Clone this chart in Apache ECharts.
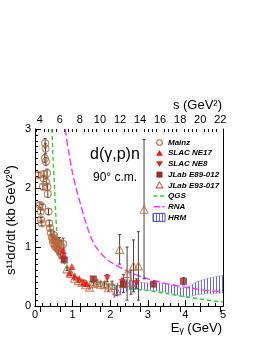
<!DOCTYPE html>
<html><head><meta charset="utf-8">
<script src="https://cdn.jsdelivr.net/npm/echarts@6/dist/echarts.min.js"></script>
<style>html,body{margin:0;padding:0;background:#fff}#c{width:268px;height:346px}</style>
</head><body><div id="c"></div>
<script>
// ---- data ----
const mainzE   = [0.10,0.13,0.15,0.16,0.18,0.19,0.21,0.23,0.24,0.26,0.27,0.28,0.29,0.30,0.32,0.33,0.34,0.36,0.38,0.40,0.42,0.45,0.47,0.49,0.50,0.51,0.53,0.54,0.55,0.57,0.58,0.60,0.62,0.63,0.65,0.67,0.70,0.72,0.75];
const mainzV   = [2.22,1.71,1.60,1.46,1.40,1.68,2.02,2.16,2.24,2.50,2.76,2.67,2.45,2.10,2.25,2.02,1.90,1.60,1.40,1.32,1.24,1.17,1.12,1.06,1.20,1.14,1.02,1.10,1.00,1.08,1.05,0.98,1.03,0.95,1.07,0.90,1.01,0.85,1.05];
const mainzErr = [0.04,0.04,0.04,0.04,0.04,0.04,0.05,0.05,0.05,0.07,0.08,0.08,0.07,0.06,0.07,0.06,0.06,0.05,0.05,0.05,0.05,0.05,0.05,0.06,0.06,0.06,0.06,0.07,0.07,0.07,0.08,0.08,0.08,0.08,0.09,0.09,0.10,0.10,0.10];

const ne17E = [0.75,0.77,0.91,0.98,1.06,1.18,1.30,1.38];
const ne17V = [0.94,0.86,0.56,0.67,0.51,0.46,0.40,0.38];

const ne8E   = [1.92,2.32,2.70];
const ne8V   = [0.47,0.40,0.38];
const ne8Err = [0.06,0.07,0.08];

const e89E   = [0.78,1.55,2.35,3.15,3.95];
const e89V   = [0.78,0.46,0.37,0.37,0.42];
const e89Err = [0.02,0.03,0.05,0.04,0.06];

const e93E   = [0.85,0.95,1.05,1.15,1.25,1.35,1.45,1.55,1.65,1.75,1.85,1.95,2.05,2.17,2.25,2.35,2.45,2.55,2.62,2.75,2.90];
const e93V   = [0.63,0.55,0.47,0.43,0.40,0.36,0.32,0.38,0.40,0.37,0.36,0.31,0.35,0.26,0.96,0.38,0.55,0.40,0.68,0.68,1.64];
const e93Err = [0.03,0.03,0.03,0.03,0.03,0.03,0.03,0.03,0.04,0.04,0.05,0.06,0.07,0.08,0.25,0.15,0.45,0.20,0.44,0.58,1.18];

const qgsE = [0.45,0.48,0.51,0.55,0.58,0.62,0.70,0.80,0.90,1.00,1.20,1.60,2.10,2.50,2.84,3.00,3.50,4.00,4.50,5.00];
const qgsV = [3.00,2.50,2.14,1.60,1.22,1.00,0.84,0.70,0.60,0.53,0.46,0.40,0.36,0.31,0.27,0.26,0.21,0.155,0.11,0.065];

const rnaE = [0.80,0.90,1.00,1.10,1.20,1.30,1.40,1.50,1.60,1.80,2.00,2.50,3.00,3.50,4.00,4.50,5.00];
const rnaV = [3.00,2.60,2.25,1.98,1.75,1.52,1.32,1.15,1.02,0.86,0.75,0.58,0.46,0.38,0.32,0.27,0.24];

const hrmE  = [2.10,2.30,2.50,2.80,3.00,3.30,3.60,3.90,4.10,4.30,4.60,5.00];
const hrmLo = [0.14,0.20,0.28,0.28,0.27,0.25,0.22,0.16,0.16,0.19,0.21,0.22];
const hrmHi = [0.36,0.42,0.44,0.40,0.39,0.39,0.36,0.30,0.33,0.41,0.47,0.52];

const sTicks = [4,6,8,10,12,14,16,18,20,22];
const legendNames = ['Mainz','SLAC NE17','SLAC NE8','JLab E89-012','JLab E93-017','QGS','RNA','HRM'];
const MD = 1.8756; // deuteron mass, s = MD^2 + 2 MD E
const sMin = MD*MD, sMax = MD*MD + 2*MD*5;

// ---- helpers ----
const zip3 = (a,b,c) => a.map((v,i)=> c ? [v,b[i],c[i]] : [v,b[i]]);
const sMinor = [];
sTicks.forEach(t => { for (let k=1;k<5;k++){ const v=+(t-2+0.4*k).toFixed(2); if(v>sMin && v<sMax) sMinor.push(v);} });

const pc = document.createElement('canvas'); pc.width=3; pc.height=4;
const pctx = pc.getContext('2d'); pctx.fillStyle='rgba(70,70,255,0.85)'; pctx.fillRect(0,0,1,4);
const hatch = {image: pc, repeat: 'repeat'};

function errBar(color){
  return function(params, api){
    const x=api.value(0), y=api.value(1), e=api.value(2);
    const a=api.coord([x,y+e]), b=api.coord([x,y-e]);
    const st={stroke:color, lineWidth:1};
    return {type:'group', children:[
      {type:'line', shape:{x1:a[0],y1:a[1],x2:b[0],y2:b[1]}, style:st},
      {type:'line', shape:{x1:a[0]-1.5,y1:a[1],x2:a[0]+1.5,y2:a[1]}, style:st},
      {type:'line', shape:{x1:b[0]-1.5,y1:b[1],x2:b[0]+1.5,y2:b[1]}, style:st}
    ]};
  };
}

const BROWN='#c06a3c', RED='#ff1010', MAROON='#9a2a2a', GREEN='#22dd22', MAG='#ff33ff';
const FONT='Liberation Sans';

// ---- manual legend (graphic) ----
const LX=159.5, LT=168, LY0=142.5, LDY=10.7;
const legendIcons = [
  cy => ({type:'circle', shape:{cx:LX, cy:cy, r:2.8}, style:{fill:'none', stroke:BROWN, lineWidth:1.1}}),
  cy => ({type:'polygon', shape:{points:[[LX,cy-3.2],[LX+3.3,cy+2.6],[LX-3.3,cy+2.6]]}, style:{fill:RED}}),
  cy => ({type:'polygon', shape:{points:[[LX,cy+3.2],[LX+3.3,cy-2.6],[LX-3.3,cy-2.6]]}, style:{fill:RED}}),
  cy => ({type:'rect', shape:{x:LX-3,y:cy-3,width:6,height:6}, style:{fill:MAROON}}),
  cy => ({type:'polygon', shape:{points:[[LX,cy-3.4],[LX+3.4,cy+2.6],[LX-3.4,cy+2.6]]}, style:{fill:'none', stroke:BROWN, lineWidth:1.1}}),
  cy => ({type:'line', shape:{x1:LX-6,y1:cy,x2:LX+5,y2:cy}, style:{stroke:GREEN, lineWidth:1.4, lineDash:[4,2.5]}}),
  cy => ({type:'line', shape:{x1:LX-6,y1:cy,x2:LX+5,y2:cy}, style:{stroke:MAG, lineWidth:1.4, lineDash:[7,2]}}),
  cy => ({type:'rect', shape:{x:LX-6.5,y:cy-4,width:12,height:8}, style:{fill:hatch, stroke:'#4444ff', lineWidth:1}})
];
const legendGraphic = [];
legendNames.forEach((n,i)=>{
  const cy = LY0 + LDY*i;
  legendGraphic.push(legendIcons[i](cy));
  legendGraphic.push({type:'text', x:LT, y:cy, style:{text:n, font:'italic bold 8px '+FONT, fill:'#000', verticalAlign:'middle'}});
});

const chart = echarts.init(document.getElementById('c'), null, {renderer:'canvas'});
chart.setOption({
  animation:false,
  textStyle:{fontFamily:FONT},
  grid:{left:35, top:129, width:188, height:177, show:false},
  xAxis:[
    {type:'value', min:0, max:5, interval:1, position:'bottom',
     axisLine:{lineStyle:{color:'#000',width:1}},
     axisTick:{inside:true,length:6,lineStyle:{color:'#000'}},
     minorTick:{show:true,splitNumber:5,length:3,lineStyle:{color:'#000'}},
     axisLabel:{color:'#000',fontSize:11,margin:3,fontFamily:FONT},
     splitLine:{show:false}},
    {type:'value', min:sMin, max:sMax, position:'top', gridIndex:0,
     axisLine:{lineStyle:{color:'#000',width:1}},
     axisTick:{inside:true,length:6,customValues:sTicks,lineStyle:{color:'#000'}},
     axisLabel:{color:'#000',fontSize:11,margin:4,customValues:sTicks,fontFamily:FONT},
     splitLine:{show:false}},
    {type:'value', min:sMin, max:sMax, position:'top', gridIndex:0,
     axisLine:{show:false},
     axisTick:{inside:true,length:3,customValues:sMinor,lineStyle:{color:'#000'}},
     axisLabel:{show:false},
     splitLine:{show:false}}
  ],
  yAxis:[
    {type:'value', min:0, max:3, interval:1, position:'left',
     axisLine:{show:true,lineStyle:{color:'#000',width:1}},
     axisTick:{show:true,inside:true,length:6,lineStyle:{color:'#000'}},
     minorTick:{show:true,splitNumber:10,length:3,lineStyle:{color:'#000'}},
     axisLabel:{color:'#000',fontSize:11,margin:4,fontFamily:FONT},
     splitLine:{show:false}},
    {type:'value', min:0, max:3, position:'right',
     axisLine:{show:true,lineStyle:{color:'#000',width:1}},
     axisTick:{show:false}, axisLabel:{show:false}, splitLine:{show:false}}
  ],
  graphic:[
    {type:'text', left:90, top:147, style:{text:'d(γ,p)n', font:'16px '+FONT, fill:'#000'}},
    {type:'text', left:93, top:172, style:{text:'90° c.m.', font:'12px '+FONT, fill:'#000'}},
    {type:'text', right:46, top:322, style:{text:'Eᵧ (GeV)', font:'13px '+FONT, fill:'#000'}},
    {type:'text', right:46, top:99, style:{text:'s (GeV²)', font:'13px '+FONT, fill:'#000'}},
    {type:'text', x:11, y:220, rotation:Math.PI/2,
     style:{text:'s¹¹dσ/dt (kb GeV²⁰)', font:'13px '+FONT, fill:'#000', align:'center', verticalAlign:'middle'}}
  ].concat(legendGraphic),
  series:[
    {name:'HRM', type:'custom', clip:true, itemStyle:{color:hatch},
     data:[[0]], z:1,
     renderItem:function(params, api){
       const pts=[];
       hrmE.forEach((e,i)=>pts.push(api.coord([e,hrmHi[i]])));
       for(let i=hrmE.length-1;i>=0;i--) pts.push(api.coord([hrmE[i],hrmLo[i]]));
       return {type:'polygon', shape:{points:pts}, style:{fill:hatch, stroke:'rgba(120,120,255,0.6)', lineWidth:0.8}};
     }},
    {name:'QGS', type:'line', smooth:0.3, symbol:'none', data:zip3(qgsE,qgsV), clip:true, z:2,
     lineStyle:{color:GREEN, width:1.4, type:[4,3]}, itemStyle:{color:GREEN}},
    {name:'RNA', type:'line', smooth:0.3, symbol:'none', data:zip3(rnaE,rnaV), clip:true, z:2,
     lineStyle:{color:MAG, width:1.4, type:[7,3]}, itemStyle:{color:MAG}},
    {type:'custom', renderItem:errBar('#444'), data:zip3(mainzE,mainzV,mainzErr), clip:true, z:3, silent:true},
    {type:'custom', renderItem:errBar('#444'), data:zip3(ne8E,ne8V,ne8Err), clip:true, z:3, silent:true},
    {type:'custom', renderItem:errBar('#444'), data:zip3(e89E,e89V,e89Err), clip:true, z:3, silent:true},
    {type:'custom', renderItem:errBar('#444'), data:zip3(e93E,e93V,e93Err), clip:true, z:3, silent:true},
    {name:'Mainz', type:'scatter', symbol:'circle', symbolSize:7, data:zip3(mainzE,mainzV), z:4,
     itemStyle:{color:'rgba(255,255,255,0)', borderColor:BROWN, borderWidth:1.1}},
    {name:'SLAC NE17', type:'scatter', symbol:'triangle', symbolSize:7, data:zip3(ne17E,ne17V), z:5,
     itemStyle:{color:RED}},
    {name:'SLAC NE8', type:'scatter', symbol:'path://M0,0 L10,0 L5,9 Z', symbolSize:7, data:zip3(ne8E,ne8V), z:5,
     itemStyle:{color:RED}},
    {name:'JLab E89-012', type:'scatter', symbol:'rect', symbolSize:7, data:zip3(e89E,e89V), z:5,
     itemStyle:{color:MAROON}},
    {name:'JLab E93-017', type:'scatter', symbol:'triangle', symbolSize:8, data:zip3(e93E,e93V), z:4,
     itemStyle:{color:'rgba(255,255,255,0)', borderColor:BROWN, borderWidth:1.1}}
  ]
});
</script>
</body></html>
